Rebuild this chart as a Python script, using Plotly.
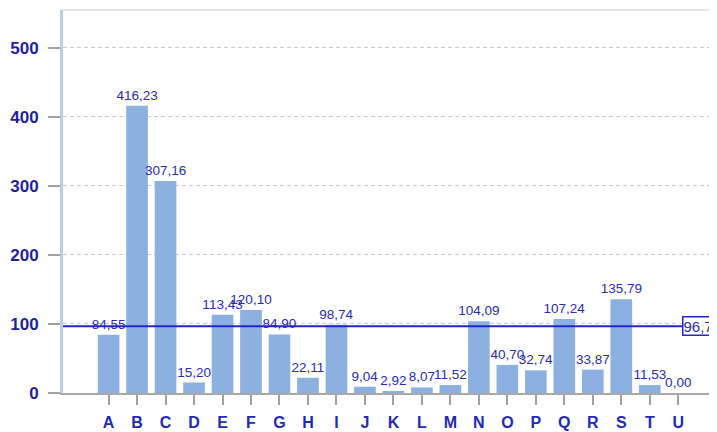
import plotly.graph_objects as go

categories = list("ABCDEFGHIJKLMNOPQRSTU")
values = [84.55, 416.23, 307.16, 15.20, 113.43, 120.10, 84.90, 22.11, 98.74, 9.04,
          2.92, 8.07, 11.52, 104.09, 40.70, 32.74, 107.24, 33.87, 135.79, 11.53, 0.00]
average = 96.76
y_ticks = [0, 100, 200, 300, 400, 500]

labels = [f"{v:.2f}".replace(".", ",") for v in values]
FONT = "Liberation Sans, Arial, sans-serif"

fig = go.Figure()
fig.add_trace(go.Bar(
    x=list(range(len(categories))), y=values,
    marker=dict(color="#8cb0e0", line=dict(width=0)),
    width=0.76,
    text=labels, textposition="outside", constraintext="none",
    textfont=dict(family=FONT, size=13.5, color="#2a2ab5"),
    cliponaxis=False,
))

fig.add_shape(type="line", xref="x", yref="y", x0=-1.6, x1=20.14, y0=average, y1=average,
              line=dict(color="#2525cc", width=2))
fig.add_annotation(x=20.14, y=average, xref="x", yref="y", xanchor="left", yanchor="middle",
                   text=f"{average:.2f}".replace(".", ","), showarrow=False,
                   font=dict(family=FONT, size=15, color="#2a2ab5"),
                   bordercolor="#2525cc", borderwidth=1.5, borderpad=0, bgcolor="white")
# top border
fig.add_shape(type="line", xref="paper", yref="paper", x0=0, x1=1, y0=1, y1=1,
              line=dict(color="#e2e6ec", width=2))

fig.update_layout(
    width=717, height=432,
    margin=dict(l=50, r=8, t=2, b=47),
    paper_bgcolor="white", plot_bgcolor="white",
    showlegend=False,
    xaxis=dict(range=[-1.6, 21.36], tickmode="array",
               tickvals=list(range(len(categories))), ticktext=categories,
               ticks="outside", ticklen=10, tickcolor="#a0a0a0", tickwidth=1.5,
               ticklabelstandoff=4,
               showgrid=False, zeroline=False,
               showline=True, linecolor="#a8a8a8", linewidth=2,
               tickfont=dict(family=FONT, size=16, color="#1f2ab5", weight="bold")),
    yaxis=dict(range=[0, 555], tickmode="array", tickvals=y_ticks,
               ticks="outside", ticklen=12, tickcolor="#a0a0a0", tickwidth=2,
               ticklabelstandoff=6,
               showgrid=True, gridcolor="#c6cad4", griddash="4px,3px", gridwidth=1.2,
               zeroline=False, showline=True, linecolor="#b8cde6", linewidth=3,
               tickfont=dict(family=FONT, size=17, color="#1f1fa0", weight="bold")),
)

fig.write_html("out.html")
